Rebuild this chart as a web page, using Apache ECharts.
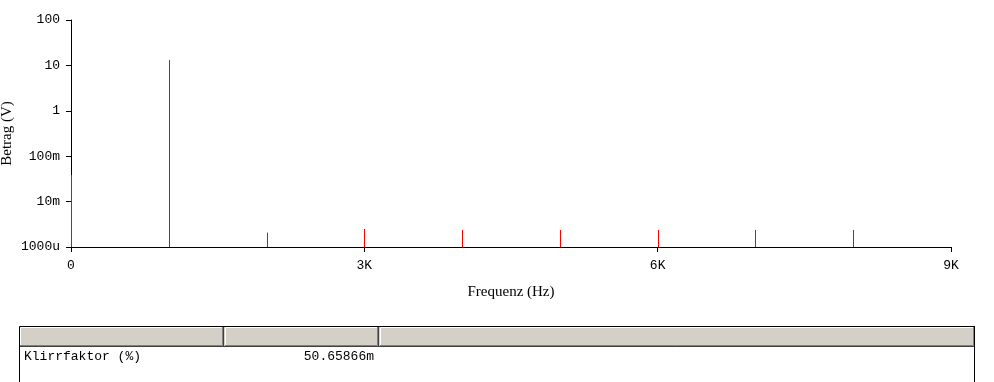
<!DOCTYPE html>
<html><head><meta charset="utf-8">
<script src="https://cdn.jsdelivr.net/npm/echarts@6/dist/echarts.min.js"></script>
<style>html,body{margin:0;padding:0;background:#fff}#c{width:994px;height:382px}</style>
</head><body><div id="c"></div>
<script>
const freqs = [0, 1000, 2000, 3000, 4000, 5000, 6000, 7000, 8000];
const magnitudes = [0.0385, 13.2, 0.00207, 0.00249, 0.00237, 0.00237, 0.00237, 0.00237, 0.00237];
const yTickValues = [0.001, 0.01, 0.1, 1, 10, 100];
const yTickLabels = ['1000u', '10m', '100m', '1', '10', '100'];
const xTickValues = [0, 3000, 6000, 9000];
const xTickLabels = ['0', '3K', '6K', '9K'];
const tableHeaders = ['', '', ''];
const tableRowLabel = 'Klirrfaktor (%)';
const tableRowValue = '50.65866m';

const chart = echarts.init(document.getElementById('c'), null, {renderer: 'canvas'});
const monoFont = '"Liberation Mono", "Courier New", monospace';
const serifFont = '"Liberation Serif", "Times New Roman", serif';
const yMin = yTickValues[0];

const T = {x0: 19, x1: 975, y0: 326, hy1: 347, y1: 382, cols: [19, 224, 379, 975]};
const graphics = [];
graphics.push({type: 'rect', shape: {x: T.x0, y: T.y0, width: T.x1 - T.x0, height: T.hy1 - T.y0}, style: {fill: '#d4d0c8'}, silent: true});
for (let i = 0; i < 3; i++) {
  const a = T.cols[i], b = T.cols[i + 1];
  graphics.push({type: 'polyline', shape: {points: [[a + 1.5, T.hy1 - 2], [a + 1.5, T.y0 + 1.5], [b - 1, T.y0 + 1.5]]}, style: {stroke: '#ffffff', lineWidth: 1, fill: null}, silent: true});
  graphics.push({type: 'polyline', shape: {points: [[a + 1, T.hy1 - 1.5], [b - 1.5, T.hy1 - 1.5], [b - 1.5, T.y0 + 1]]}, style: {stroke: '#808080', lineWidth: 1, fill: null}, silent: true});
  graphics.push({type: 'line', shape: {x1: b - 0.5, y1: T.y0, x2: b - 0.5, y2: T.hy1}, style: {stroke: '#404040', lineWidth: 1}, silent: true});
  graphics.push({type: 'text', style: {text: tableHeaders[i], x: a + 5, y: T.y0 + 11, verticalAlign: 'middle', font: '13px ' + monoFont, fill: '#000'}, silent: true});
}
graphics.push({type: 'line', shape: {x1: T.x0, y1: T.hy1 - 0.5, x2: T.x1, y2: T.hy1 - 0.5}, style: {stroke: '#404040', lineWidth: 1}, silent: true});
graphics.push({type: 'polyline', shape: {points: [[T.x0 + 0.5, T.y1], [T.x0 + 0.5, T.y0 + 0.5], [T.x1 - 0.5, T.y0 + 0.5], [T.x1 - 0.5, T.y1]]}, style: {stroke: '#000', lineWidth: 1, fill: null}, silent: true});
graphics.push({type: 'text', style: {text: tableRowLabel, x: 24, y: 357, verticalAlign: 'middle', font: '13px ' + monoFont, fill: '#000'}, silent: true});
graphics.push({type: 'text', style: {text: tableRowValue, x: 374, y: 357, align: 'right', verticalAlign: 'middle', font: '13px ' + monoFont, fill: '#000'}, silent: true});

chart.setOption({
  animation: false,
  backgroundColor: '#fff',
  grid: {left: 71, right: 43, top: 20, bottom: 135, containLabel: false, outerBoundsMode: 'none'},
  xAxis: {
    type: 'value', min: 0, max: 9000, interval: 3000,
    name: 'Frequenz (Hz)', nameLocation: 'middle', nameGap: 38, nameMoveOverlap: false,
    nameTextStyle: {fontFamily: serifFont, fontSize: 15, color: '#000'},
    axisLine: {lineStyle: {color: '#000', width: 1}},
    axisTick: {show: true, length: 5, lineStyle: {color: '#000'}},
    axisLabel: {color: '#000', fontFamily: monoFont, fontSize: 13, margin: 12,
      formatter: v => { const i = xTickValues.indexOf(v); return i >= 0 ? xTickLabels[i] : ''; }},
    splitLine: {show: false}
  },
  yAxis: {
    type: 'log', min: 0.001, max: 100, logBase: 10,
    name: 'Betrag (V)', nameLocation: 'middle', nameGap: 56, nameMoveOverlap: false,
    nameTextStyle: {fontFamily: serifFont, fontSize: 15, color: '#000'},
    axisLine: {show: true, lineStyle: {color: '#000', width: 1}},
    axisTick: {show: true, length: 5, lineStyle: {color: '#000'}},
    minorTick: {show: false},
    axisLabel: {color: '#000', fontFamily: monoFont, fontSize: 13, margin: 11,
      formatter: v => { let best = 0; for (let i = 0; i < yTickValues.length; i++) { if (Math.abs(Math.log10(v) - Math.log10(yTickValues[i])) < Math.abs(Math.log10(v) - Math.log10(yTickValues[best]))) best = i; } return yTickLabels[best]; }},
    splitLine: {show: false}
  },
  series: [{
    type: 'custom',
    data: freqs.map((f, i) => [f, magnitudes[i]]),
    renderItem: (params, api) => {
      const top = api.coord([api.value(0), api.value(1)]);
      const bot = api.coord([api.value(0), yMin]);
      const x = Math.round(top[0]) + 0.5;
      return {type: 'line', shape: {x1: x, y1: top[1], x2: x, y2: bot[1]}, style: {stroke: '#ff0000', lineWidth: 1}};
    },
    z: 1
  }],
  graphic: graphics
});
</script></body></html>
